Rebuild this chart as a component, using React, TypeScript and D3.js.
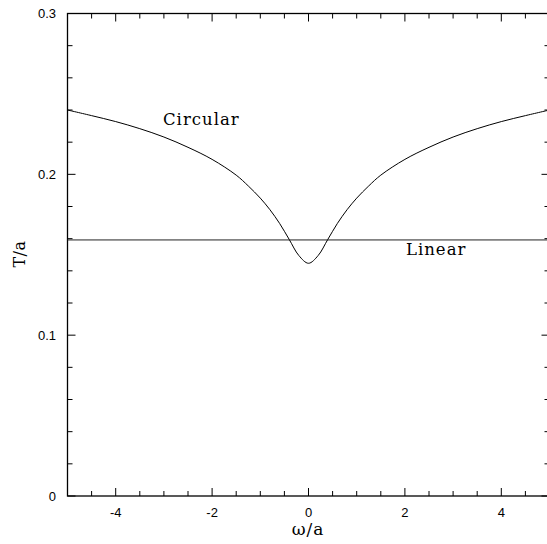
import React from "react";
import * as d3 from "d3";

const circularX = [-5, -4.5, -4, -3.5, -3, -2.5, -2, -1.5, -1.25, -1, -0.8, -0.6, -0.4, -0.2, 0, 0.2, 0.4, 0.6, 0.8, 1, 1.25, 1.5, 2, 2.5, 3, 3.5, 4, 4.5, 5];
const circularY = [0.240, 0.2365, 0.2328, 0.2284, 0.2232, 0.2168, 0.2093, 0.1995, 0.1928, 0.1852, 0.178, 0.1695, 0.1595, 0.1495, 0.1447, 0.1495, 0.1595, 0.1695, 0.178, 0.1852, 0.1928, 0.1995, 0.2093, 0.2168, 0.2232, 0.2284, 0.2328, 0.2365, 0.240];
const linearX = [-5, 5];
const linearY = [0.1592, 0.1592];

const xMajorTicks = [-4, -2, 0, 2, 4];
const yMajorTicks = [0, 0.1, 0.2, 0.3];
const yTickLabels = ["0", "0.1", "0.2", "0.3"];

const W = 547;
const H = 544;

export default function App() {
  const x = d3.scaleLinear().domain([-5, 5]).range([67.5, 549.5]);
  const y = d3.scaleLinear().domain([0, 0.3]).range([496, 13.5]);

  const xMinor = d3.range(-5, 5.001, 0.5).filter((v) => Math.abs(v / 2 - Math.round(v / 2)) > 1e-6);
  const yMinor = d3.range(0, 0.3001, 0.02).filter((v) => Math.abs(v * 10 - Math.round(v * 10)) > 1e-6);

  const line = d3
    .line<number>()
    .x((_, i) => x(circularX[i]))
    .y((d) => y(d))
    .curve(d3.curveCatmullRom.alpha(0.5));

  const linLine = d3
    .line<number>()
    .x((_, i) => x(linearX[i]))
    .y((d) => y(d));

  const [x0, x1] = x.range();
  const [y0, y1] = y.range();
  const sans = "'Liberation Sans', Arial, sans-serif";
  const serif = "'DejaVu Serif', serif";

  return (
    <svg width={W} height={H} style={{ position: "absolute", left: 0, top: 0, background: "#fff" }}>
      <rect x={0} y={0} width={W} height={H} fill="#fff" />
      {/* frame */}
      <rect x={x0} y={y1} width={x1 - x0} height={y0 - y1} fill="none" stroke="#000" strokeWidth={1.3} />
      {/* bottom & top ticks */}
      {xMajorTicks.map((t) => (
        <g key={"xm" + t}>
          <line x1={x(t)} x2={x(t)} y1={y0} y2={y0 - 8} stroke="#000" strokeWidth={1} />
          <line x1={x(t)} x2={x(t)} y1={y1} y2={y1 + 8} stroke="#000" strokeWidth={1} />
          <text x={x(t)} y={517} textAnchor="middle" fontFamily={sans} fontSize={13} fill="#000">
            {t < 0 ? "-" + Math.abs(t) : String(t)}
          </text>
        </g>
      ))}
      {xMinor.map((t) => (
        <g key={"xn" + t}>
          <line x1={x(t)} x2={x(t)} y1={y0} y2={y0 - 5} stroke="#000" strokeWidth={1} />
          <line x1={x(t)} x2={x(t)} y1={y1} y2={y1 + 5} stroke="#000" strokeWidth={1} />
        </g>
      ))}
      {/* left & right ticks */}
      {yMajorTicks.map((t, i) => (
        <g key={"ym" + t}>
          <line x1={x0} x2={x0 + 8} y1={y(t)} y2={y(t)} stroke="#000" strokeWidth={1} />
          <line x1={x1} x2={x1 - 8} y1={y(t)} y2={y(t)} stroke="#000" strokeWidth={1} />
          <text x={56} y={y(t) + 4.5} textAnchor="end" fontFamily={sans} fontSize={13} fill="#000">
            {yTickLabels[i]}
          </text>
        </g>
      ))}
      {yMinor.map((t) => (
        <g key={"yn" + t}>
          <line x1={x0} x2={x0 + 5} y1={y(t)} y2={y(t)} stroke="#000" strokeWidth={1} />
          <line x1={x1} x2={x1 - 5} y1={y(t)} y2={y(t)} stroke="#000" strokeWidth={1} />
        </g>
      ))}
      {/* data */}
      <path d={linLine(linearY) || ""} fill="none" stroke="#222" strokeWidth={1} />
      <path d={line(circularY) || ""} fill="none" stroke="#000" strokeWidth={1} />
      {/* labels */}
      <text x={163} y={125} fontFamily={serif} fontSize={16.5} letterSpacing={1} fill="#000">
        Circular
      </text>
      <text x={406} y={255} fontFamily={serif} fontSize={16.5} letterSpacing={1} fill="#000">
        Linear
      </text>
      <text x={308} y={535} textAnchor="middle" fontFamily={serif} fontSize={17} letterSpacing={1} fill="#000">
        ω/a
      </text>
      <text
        transform={`translate(25,254) rotate(-90)`}
        textAnchor="middle"
        fontFamily={serif}
        fontSize={16}
        letterSpacing={0.5}
        fill="#000"
      >
        T/a
      </text>
    </svg>
  );
}
